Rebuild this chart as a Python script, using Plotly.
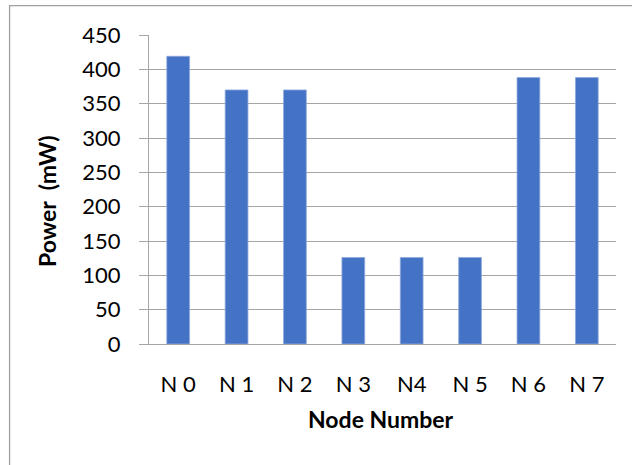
import plotly.graph_objects as go

# Power drawn by each node
nodes = ["N 0", "N 1", "N 2", "N 3", "N4", "N 5", "N 6", "N 7"]
power_mw = [419, 370, 370, 126, 126, 126, 388, 388]
y_ticks = [0, 50, 100, 150, 200, 250, 300, 350, 400, 450]

W, H = 632, 465
L, R, T, B = 149, 16.4, 34.7, 120.7
pw, ph = W - L - R, H - T - B


def px_x(px):
    """Horizontal pixel position -> paper coordinate."""
    return (px - L) / pw


def px_y(py):
    """Vertical pixel position (from top) -> paper coordinate."""
    return (H - B - py) / ph


fig = go.Figure(
    go.Bar(
        x=nodes,
        y=power_mw,
        marker=dict(color="#4472C4", line=dict(color="#8FAADC", width=0.8)),
    )
)

font = "Lato, 'Open Sans', sans-serif"
fig.update_layout(
    width=W,
    height=H,
    margin=dict(l=L, r=R, t=T, b=B),
    paper_bgcolor="white",
    plot_bgcolor="white",
    bargap=0.61,
    showlegend=False,
    font=dict(family=font, size=22, color="#000000"),
    xaxis=dict(
        showgrid=False,
        showline=True,
        linecolor="#A6A6A6",
        linewidth=1.3,
        ticks="",
        ticklabelstandoff=20,
        tickfont=dict(size=22),
    ),
    yaxis=dict(
        range=[0, 450],
        tickvals=y_ticks,
        showgrid=True,
        gridcolor="#A6A6A6",
        gridwidth=1.3,
        zeroline=False,
        showline=True,
        linecolor="#A6A6A6",
        linewidth=1.3,
        ticks="outside",
        ticklen=9,
        tickcolor="#A6A6A6",
        tickwidth=1.3,
        ticklabelstandoff=14,
        tickfont=dict(size=22),
    ),
    annotations=[
        dict(
            text="<b>Node Number</b>",
            xref="paper", yref="paper",
            x=px_x(381), y=px_y(419),
            xanchor="center", yanchor="middle",
            showarrow=False,
            font=dict(size=23),
        ),
        dict(
            text="<b>Power  (mW)</b>",
            xref="paper", yref="paper",
            x=px_x(47), y=px_y(201),
            xanchor="center", yanchor="middle",
            textangle=-90,
            showarrow=False,
            font=dict(size=23),
        ),
    ],
    shapes=[
        dict(
            type="rect",
            xref="paper",
            yref="paper",
            x0=px_x(9.7),
            x1=px_x(W + 10),
            y0=px_y(H + 10),
            y1=px_y(5.3),
            line=dict(color="#A0A0A0", width=1.3),
            layer="below",
        )
    ],
)

fig.write_html("out.html")
